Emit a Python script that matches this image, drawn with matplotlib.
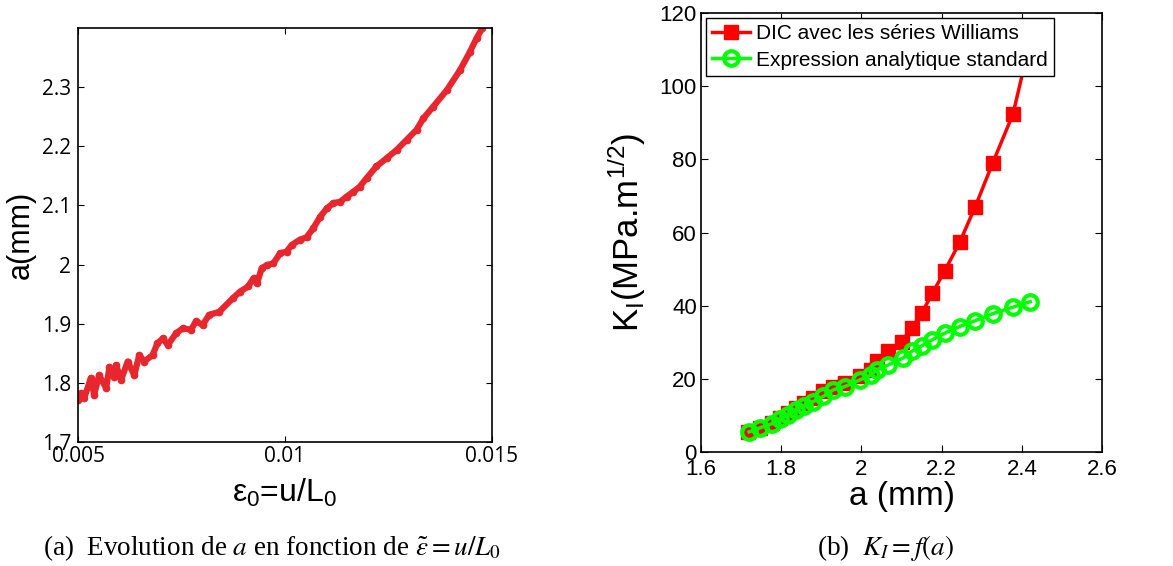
import numpy as np
import matplotlib
matplotlib.use('Agg')
import matplotlib.pyplot as plt

plt.rcParams['font.family'] = ['Liberation Sans', 'DejaVu Sans']
plt.rcParams['mathtext.fontset'] = 'custom'
plt.rcParams['mathtext.rm'] = 'Liberation Sans'
plt.rcParams['mathtext.it'] = 'Liberation Sans:italic'

# (a) crack length vs strain
eps = [0.00500, 0.00507, 0.00515, 0.00531, 0.00539, 0.00551, 0.00568, 0.00576,
       0.00588, 0.00592, 0.00604, 0.00620, 0.00636, 0.00648, 0.00660, 0.00680,
       0.00692, 0.00705, 0.00717, 0.00737, 0.00753, 0.00773, 0.00785, 0.00801,
       0.00817, 0.00841, 0.00874, 0.00891, 0.00911, 0.00924, 0.00932, 0.00944,
       0.00956, 0.00972, 0.00988, 0.01004, 0.01016, 0.01036, 0.01052, 0.01068,
       0.01085, 0.01101, 0.01117, 0.01133, 0.01149, 0.01165, 0.01181, 0.01197,
       0.01221, 0.01246, 0.01270, 0.01294, 0.01318, 0.01334, 0.01358, 0.01391,
       0.01423, 0.01447, 0.01463, 0.01477]
a_mm = [1.771, 1.782, 1.774, 1.808, 1.780, 1.813, 1.791, 1.827,
        1.810, 1.830, 1.805, 1.836, 1.813, 1.847, 1.836, 1.847,
        1.867, 1.875, 1.864, 1.884, 1.892, 1.890, 1.904, 1.898,
        1.915, 1.920, 1.943, 1.954, 1.963, 1.977, 1.968, 1.994,
        1.999, 2.002, 2.019, 2.022, 2.033, 2.042, 2.046, 2.061,
        2.081, 2.095, 2.104, 2.106, 2.115, 2.123, 2.132, 2.146,
        2.166, 2.180, 2.194, 2.211, 2.228, 2.247, 2.267, 2.295,
        2.329, 2.360, 2.383, 2.400]

# (b) stress intensity factor vs crack length
a_dic = [1.718, 1.747, 1.776, 1.797, 1.818, 1.838, 1.857, 1.880, 1.905, 1.930,
         1.959, 1.996, 2.025, 2.038, 2.067, 2.100, 2.125, 2.150, 2.177, 2.208,
         2.245, 2.284, 2.327, 2.378, 2.420]
k_dic = [5.6, 6.5, 7.9, 9.3, 10.6, 12.0, 13.4, 14.7, 16.6, 17.9,
         18.8, 20.7, 22.5, 24.8, 27.5, 30.2, 33.8, 37.9, 43.4, 49.6,
         57.3, 67.1, 78.9, 92.4, 112.0]
a_std = [1.720, 1.747, 1.776, 1.797, 1.818, 1.838, 1.857, 1.880, 1.905, 1.930,
         1.959, 1.996, 2.025, 2.038, 2.067, 2.104, 2.125, 2.150, 2.177, 2.208,
         2.245, 2.284, 2.327, 2.378, 2.421]
k_std = [5.5, 6.6, 7.7, 9.0, 10.2, 11.6, 12.6, 13.8, 15.2, 17.0,
         17.9, 19.7, 21.1, 22.5, 23.8, 25.7, 27.5, 29.0, 30.7, 32.5,
         34.3, 35.9, 37.8, 39.6, 41.1]

fig = plt.figure(figsize=(11.73, 5.66), dpi=100)

ax1 = fig.add_axes([0.0665, 0.2191, 0.3529, 0.7314])
ax1.plot(eps, a_mm, color='#e8262d', lw=4.5, marker='o', ms=4.5, solid_capstyle='round')
ax1.set_xlim(0.005, 0.015)
ax1.set_ylim(1.7, 2.4)
ax1.set_xticks([0.005, 0.01, 0.015])
ax1.set_xticklabels(['0.005', '0.01', '0.015'])
ax1.set_yticks([1.7, 1.8, 1.9, 2.0, 2.1, 2.2, 2.3])
ax1.set_yticklabels(['1.7', '1.8', '1.9', '2', '2.1', '2.2', '2.3'])
ax1.tick_params(direction='in', top=True, right=True, length=4, labelsize=15,
                labelfontfamily='Open Sans')
ax1.tick_params(axis='y', pad=5)
ax1.tick_params(axis='x', pad=3)
ax1.set_ylabel('a(mm)', fontsize=22, labelpad=4)
ax1.set_xlabel(r'$\mathregular{\epsilon_0}$=u/L$\mathregular{_0}$', fontsize=23, labelpad=7)

ax2 = fig.add_axes([0.5976, 0.2014, 0.3419, 0.7756])
ax2.plot(a_dic, k_dic, color='red', lw=2.5, marker='s', ms=10,
         label='DIC avec les séries Williams')
ax2.plot(a_std, k_std, color='#00ff00', lw=2.5, marker='o', ms=10.5, mfc='none', mew=3,
         label='Expression analytique standard')
ax2.set_xlim(1.6, 2.6)
ax2.set_ylim(0, 120)
ax2.set_xticks([1.6, 1.8, 2.0, 2.2, 2.4, 2.6])
ax2.set_xticklabels(['1.6', '1.8', '2', '2.2', '2.4', '2.6'])
ax2.set_yticks([0, 20, 40, 60, 80, 100, 120])
ax2.tick_params(direction='in', top=True, right=True, length=5, labelsize=16)
ax2.tick_params(axis='x', pad=5)
ax2.tick_params(axis='y', pad=3)
ax2.set_xlabel('a (mm)', fontsize=24, labelpad=1)
ax2.set_ylabel(r'K$\mathregular{_I}$(MPa.m$\mathregular{^{1/2}}$)', fontsize=25, labelpad=8)
leg = ax2.legend(loc='upper left', fontsize=15, frameon=True, fancybox=False,
                 edgecolor='black', framealpha=1, borderpad=0.3, handlelength=1.8,
                 handletextpad=0.3, labelspacing=0.35, borderaxespad=0.25)
leg.get_frame().set_linewidth(1.0)

for ax in (ax1, ax2):
    for sp in ax.spines.values():
        sp.set_linewidth(1.2)

serif = ['Liberation Serif', 'DejaVu Serif']
fig.text(0.037, 0.02, r'(a)  Evolution de $a$ en fonction de $\tilde{\varepsilon} = u/L_0$',
         fontsize=19.5, family=serif, ha='left', va='baseline', math_fontfamily='stix')
fig.text(0.755, 0.02, r'(b)  $K_I = f(a)$', fontsize=19.5, family=serif,
         ha='center', va='baseline', math_fontfamily='stix')

fig.savefig('out.png', dpi=100)
